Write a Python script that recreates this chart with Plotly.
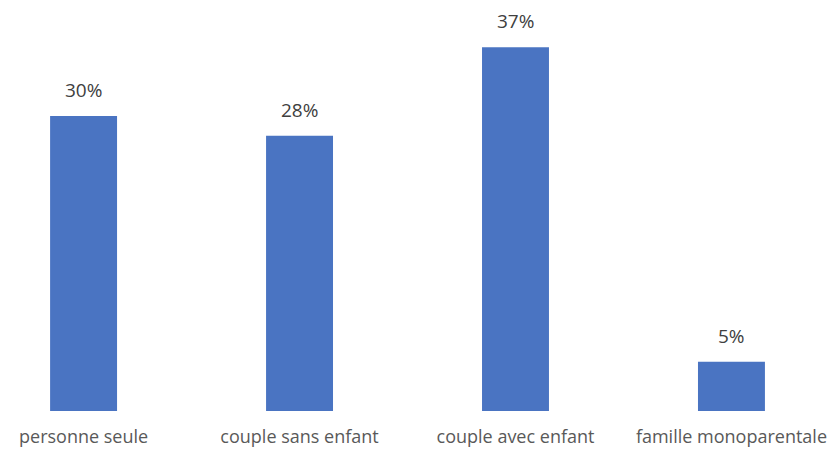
import plotly.graph_objects as go

categories = ["personne seule", "couple sans enfant", "couple avec enfant", "famille monoparentale"]
values = [30, 28, 37, 5]
labels = ["30%", "28%", "37%", "5%"]

BAR_COLOR = "#4a74c2"
FONT = "'Open Sans', Lato, sans-serif"

fig = go.Figure()
fig.add_trace(go.Bar(
    x=categories, y=values,
    marker=dict(color=BAR_COLOR, line=dict(width=0)),
    width=0.31,
    hoverinfo="skip",
))

for c, v, t in zip(categories, values, labels):
    fig.add_annotation(x=c, y=v, text=t, showarrow=False, yanchor="bottom",
                       yshift=11, font=dict(family=FONT, size=19, color="#404040"))

fig.update_layout(
    width=839, height=455,
    margin=dict(l=0, r=0, t=0, b=44),
    plot_bgcolor="white", paper_bgcolor="white",
    showlegend=False,
    xaxis=dict(range=[-0.387, 3.498], showgrid=False, zeroline=False, showline=False,
               ticks="", ticklabelstandoff=13,
               tickfont=dict(family=FONT, size=18, color="#595959")),
    yaxis=dict(range=[0, 41.8], showgrid=False, zeroline=False, showline=False,
               showticklabels=False, ticks=""),
)

fig.write_html("out.html")
